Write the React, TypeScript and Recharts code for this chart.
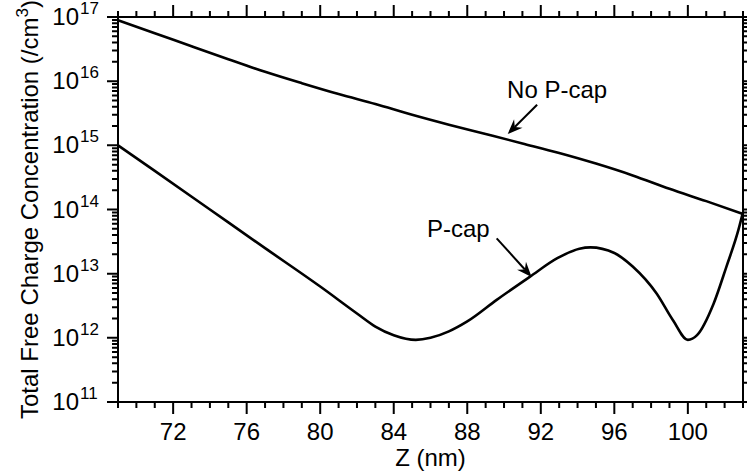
import React from 'react';
import { LineChart, Line, XAxis, YAxis, ReferenceLine, ReferenceArea } from 'recharts';

const FONT = '"Liberation Sans", Arial, Helvetica, sans-serif';

// Total free charge (/cm^3) vs depth Z (nm), structure without the P-cap layer
const noCapZ = [69, 71, 73, 75, 77, 79, 81, 83, 85, 87, 89, 91, 93, 95, 97, 99, 101, 103];
const noCapN = [
  8.9e16, 5.6e16, 3.5e16, 2.2e16, 1.4e16, 9.3e15, 6.3e15, 4.4e15, 3.0e15,
  2.1e15, 1.5e15, 1.07e15, 7.6e14, 5.2e14, 3.4e14, 2.1e14, 1.35e14, 8.5e13,
];

// same quantity with the P-cap layer
const pCapZ = [
  69, 71, 74, 77, 80, 82, 83, 84, 85.2, 86, 87, 88, 89.6, 91.4, 92.9, 94.1,
  94.7, 96, 97, 98.3, 99.2, 100, 100.5, 101.4, 102.1, 102.75, 103,
];
const pCapN = [
  1.0e15, 4.0e14, 1.0e14, 2.5e13, 6.3e12, 2.4e12, 1.5e12, 1.1e12, 9.3e11,
  1.0e12, 1.26e12, 1.8e12, 3.9e12, 8.9e12, 1.74e13, 2.45e13, 2.57e13, 2.1e13,
  1.29e13, 4.9e12, 1.86e12, 9.3e11, 1.1e12, 3.4e12, 1.29e13, 4.8e13, 9.1e13,
];

const xDomain = [69, 103];
const yDomain = [1e11, 1e17];
const xMajorStep = 4;
const decades = [11, 12, 13, 14, 15, 16, 17];

const noCapData = noCapZ.map((z, i) => ({ z, n: noCapN[i] }));
const pCapData = pCapZ.map((z, i) => ({ z, n: pCapN[i] }));

// one tick per nm, labels every 4 nm
const xTicks: number[] = [];
for (let z = xDomain[0]; z <= xDomain[1]; z++) xTicks.push(z);

// 1..9 x 10^d minor ticks, labels on the decades
const yTicks: number[] = [];
decades.forEach((d) => {
  const last = d === decades[decades.length - 1];
  for (let m = 1; m <= (last ? 1 : 9); m++) yTicks.push(m * Math.pow(10, d));
});

const isDecade = (v: number) => {
  const e = Math.log10(v);
  return Math.abs(e - Math.round(e)) < 1e-6;
};
const isXMajor = (z: number) => z % xMajorStep === 0;

// tick labels only; the marks themselves are drawn by FrameTicks
const BottomLabel = (props: any) => {
  const { x, y, payload } = props;
  if (!isXMajor(payload.value)) return <g />;
  return (
    <text x={x} y={y + 38} textAnchor="middle" fontSize={24} fontFamily={FONT} fill="#000">
      {payload.value}
    </text>
  );
};

const LeftLabel = (props: any) => {
  const { x, y, payload } = props;
  if (!isDecade(payload.value)) return <g />;
  const exp = Math.round(Math.log10(payload.value));
  return (
    <g fontFamily={FONT} fill="#000">
      <text x={x - 39} y={y + 8} textAnchor="end" fontSize={24}>10</text>
      <text x={x - 38} y={y - 3} textAnchor="start" fontSize={17}>{exp}</text>
    </g>
  );
};

// outward tick marks on all four sides; the segment runs corner to corner of the plot
const FrameTicks = (p: any) => {
  const { x1, y1, x2, y2 } = p;
  const lx0 = Math.log10(yDomain[0]);
  const lx1 = Math.log10(yDomain[1]);
  const px = (z: number) => x1 + ((z - xDomain[0]) / (xDomain[1] - xDomain[0])) * (x2 - x1);
  const py = (v: number) => y1 + ((Math.log10(v) - lx0) / (lx1 - lx0)) * (y2 - y1);
  const left = Math.min(x1, x2);
  const right = Math.max(x1, x2);
  const top = Math.min(y1, y2);
  const bottom = Math.max(y1, y2);
  let d = '';
  xTicks.forEach((z) => {
    const x = px(z);
    const len = isXMajor(z) ? 12 : 6;
    d += `M${x - 1},${bottom}h2v${len}h-2Z M${x - 1},${top}h2v${-len}h-2Z `;
  });
  yTicks.forEach((v) => {
    const y = py(v);
    const len = isDecade(v) ? 11 : 6;
    d += `M${left},${y - 1}h${-len}v2h${len}Z M${right},${y - 1}h${len}v2h${-len}Z `;
  });
  return <path d={d} fill="#000" stroke="none" />;
};

const YTitle = ({ viewBox }: any) => {
  const bx = viewBox.x + 38;
  const by = viewBox.y + 402;
  return (
    <text
      transform={`rotate(-90, ${bx}, ${by})`}
      x={bx}
      y={by}
      fontSize={24}
      fontFamily={FONT}
      fill="#000"
    >
      Total Free Charge Concentration (/cm
      <tspan fontSize={17} dy={-10}>3</tspan>
      <tspan dy={10}>)</tspan>
    </text>
  );
};

const XTitle = ({ viewBox }: any) => (
  <text
    x={viewBox.x + viewBox.width / 2}
    y={viewBox.y + 64}
    textAnchor="middle"
    fontSize={24}
    fontFamily={FONT}
    fill="#000"
  >
    Z (nm)
  </text>
);

// arrow drawn from the label end (x1,y1) to the curve (x2,y2)
const arrowShape = (label: string, dx: number, dy: number, anchor: string) => (p: any) => {
  const { x1, y1, x2, y2 } = p;
  const ang = Math.atan2(y2 - y1, x2 - x1);
  const ux = Math.cos(ang);
  const uy = Math.sin(ang);
  const len = 15;
  const half = 6;
  const notch = 10;
  const bx = x2 - ux * len;
  const by = y2 - uy * len;
  const nx = x2 - ux * notch;
  const ny = y2 - uy * notch;
  const head = [
    [x2, y2],
    [bx - uy * half, by + ux * half],
    [nx, ny],
    [bx + uy * half, by - ux * half],
  ]
    .map((q) => q.join(','))
    .join(' ');
  return (
    <g>
      <path d={`M${x1},${y1}L${nx},${ny}`} stroke="#000" strokeWidth={2} fill="none" />
      <polygon points={head} fill="#000" />
      <text x={x1 + dx} y={y1 + dy} textAnchor={anchor} fontSize={24} fontFamily={FONT} fill="#000">
        {label}
      </text>
    </g>
  );
};

export default function App() {
  return (
    <div style={{ position: 'absolute', left: 0, top: 0, background: '#fff' }}>
      <LineChart width={747} height={471} margin={{ top: 17, right: 4, bottom: 0, left: 0 }}>
        <XAxis
          dataKey="z"
          type="number"
          domain={xDomain}
          ticks={xTicks}
          interval={0}
          height={69}
          tickSize={0}
          tickMargin={0}
          tickLine={false}
          axisLine={false}
          tick={<BottomLabel />}
          label={<XTitle />}
        />
        <YAxis
          scale="log"
          type="number"
          domain={yDomain}
          ticks={yTicks}
          interval={0}
          width={118}
          tickSize={0}
          tickMargin={0}
          tickLine={false}
          axisLine={false}
          tick={<LeftLabel />}
          label={<YTitle />}
        />
        {/* plot frame */}
        <ReferenceArea
          x1={xDomain[0]}
          x2={xDomain[1]}
          y1={yDomain[0]}
          y2={yDomain[1]}
          fill="none"
          fillOpacity={0}
          stroke="#000"
          strokeWidth={2}
        />
        <ReferenceLine
          segment={[
            { x: xDomain[0], y: yDomain[0] },
            { x: xDomain[1], y: yDomain[1] },
          ]}
          ifOverflow="visible"
          shape={FrameTicks}
        />
        <Line
          data={noCapData}
          dataKey="n"
          type="monotone"
          stroke="#000"
          strokeWidth={2.6}
          dot={false}
          isAnimationActive={false}
        />
        <Line
          data={pCapData}
          dataKey="n"
          type="monotone"
          stroke="#000"
          strokeWidth={2.6}
          dot={false}
          isAnimationActive={false}
        />
        <ReferenceLine
          segment={[{ x: 91.8, y: 4.3e15 }, { x: 90.2, y: 1.5e15 }]}
          shape={arrowShape('No P-cap', -30, -7, 'start')}
        />
        <ReferenceLine
          segment={[{ x: 89.6, y: 3.55e13 }, { x: 91.5, y: 8.9e12 }]}
          shape={arrowShape('P-cap', -7, -1, 'end')}
        />
      </LineChart>
    </div>
  );
}
